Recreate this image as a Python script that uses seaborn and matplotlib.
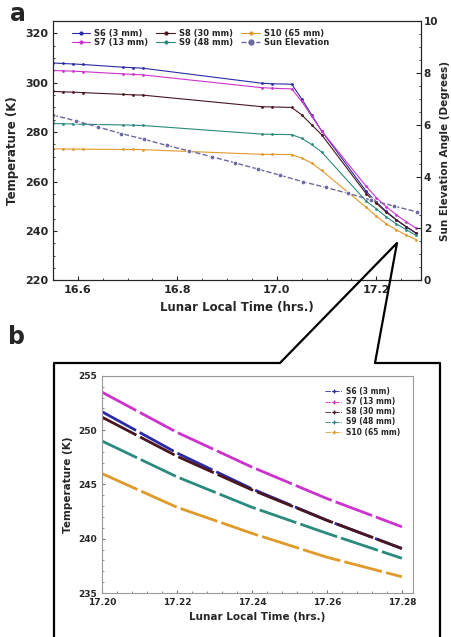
import numpy as np
import pandas as pd
import matplotlib
matplotlib.use('Agg')
import matplotlib.pyplot as plt
import seaborn as sns
from matplotlib.lines import Line2D
from matplotlib.ticker import MultipleLocator

sns.set_style('ticks')
plt.rcParams['font.family'] = ['DejaVu Sans']
plt.rcParams['font.weight'] = 'bold'

# Zeitpunkte (Lunar Local Time, hrs.)
zeit = [16.55, 16.57, 16.59, 16.61, 16.69, 16.71, 16.73, 16.97, 16.99, 17.03,
        17.05, 17.07, 17.09, 17.18, 17.20, 17.22, 17.24, 17.26, 17.28]

# Temperaturen (K)
s6 = [308.0, 307.8, 307.6, 307.4, 306.3, 306.1, 305.9, 299.8, 299.6, 299.4,
      293.5, 287.0, 280.5, 256.0, 251.7, 247.9, 244.6, 241.7, 239.1]
s7 = [305.0, 304.8, 304.7, 304.5, 303.6, 303.4, 303.2, 298.0, 297.8, 297.5,
      292.5, 286.5, 280.5, 258.0, 253.5, 249.8, 246.6, 243.7, 241.1]
s8 = [296.5, 296.3, 296.2, 296.0, 295.3, 295.1, 295.0, 290.3, 290.2, 290.0,
      287.0, 283.0, 279.0, 255.0, 251.2, 247.6, 244.5, 241.7, 239.1]
s9 = [283.5, 283.4, 283.3, 283.2, 282.9, 282.8, 282.7, 279.2, 279.1, 279.0,
      277.5, 275.0, 272.0, 252.0, 249.0, 245.7, 242.9, 240.5, 238.2]
s10 = [273.2, 273.2, 273.1, 273.1, 273.0, 273.0, 272.9, 271.0, 271.0, 270.9,
       269.5, 267.5, 264.5, 249.5, 246.0, 242.9, 240.5, 238.3, 236.5]

sensoren = ['S6 (3 mm)', 'S7 (13 mm)', 'S8 (30 mm)', 'S9 (48 mm)', 'S10 (65 mm)']
farben = ['#2b2ba8', '#cc33cc', '#4a1620', '#2a8a7e', '#e09a2a']

# Sonnenhöhe (Grad)
zeit_sonne = [16.55, 16.596, 16.641, 16.687, 16.733, 16.779, 16.824, 16.870, 16.916,
              16.962, 17.007, 17.053, 17.099, 17.144, 17.190, 17.236, 17.282]
sonne = [6.37, 6.15, 5.91, 5.66, 5.44, 5.20, 4.99, 4.76, 4.53,
         4.29, 4.05, 3.80, 3.58, 3.35, 3.09, 2.86, 2.64]

rows = []
for name, werte in zip(sensoren, [s6, s7, s8, s9, s10]):
    for t, v in zip(zeit, werte):
        rows.append({'Zeit': t, 'Temp': v, 'Sensor': name})
df = pd.DataFrame(rows)
df_sonne = pd.DataFrame({'Zeit': zeit_sonne, 'Winkel': sonne})

fig = plt.figure(figsize=(4.51, 6.37), dpi=100)

# ---------- Panel a ----------
ax = fig.add_axes([0.1175, 0.560, 0.816, 0.407])
for name, c in zip(sensoren, farben):
    sns.lineplot(data=df[df['Sensor'] == name], x='Zeit', y='Temp', color=c,
                 marker='.', markersize=4, markeredgewidth=0, linewidth=0.8,
                 ax=ax, label=name, legend=False)
ax.set_xlim(16.55, 17.29)
ax.set_ylim(220, 325)
ax.set_yticks([220, 240, 260, 280, 300, 320])
ax.set_xticks([16.6, 16.8, 17.0, 17.2])
ax.xaxis.set_minor_locator(MultipleLocator(0.05))
ax.yaxis.set_minor_locator(MultipleLocator(5))
ax.tick_params(which='both', direction='in', labelsize=8)
ax.tick_params(which='major', length=3)
ax.tick_params(which='minor', length=1.5)
ax.set_xlabel('Lunar Local Time (hrs.)', fontsize=8.5, fontweight='bold')
ax.set_ylabel('Temperature (K)', fontsize=8.5, fontweight='bold')
for lab in ax.get_xticklabels() + ax.get_yticklabels():
    lab.set_fontweight('bold')

ax2 = ax.twinx()
sns.lineplot(data=df_sonne, x='Zeit', y='Winkel', color='#6a6aa0', marker='o',
             markersize=3.5, linestyle='--', linewidth=1.0, ax=ax2, legend=False)
ax2.set_ylim(0, 10)
ax2.set_yticks([0, 2, 4, 6, 8, 10])
ax2.yaxis.set_minor_locator(MultipleLocator(0.5))
ax2.tick_params(which='both', direction='in', labelsize=7.5, pad=2)
ax2.tick_params(which='minor', length=1.5)
ax2.set_ylabel('Sun Elevation Angle (Degrees)', fontsize=7.5, fontweight='bold',
               labelpad=1)
for lab in ax2.get_yticklabels():
    lab.set_fontweight('bold')

handles = [Line2D([], [], color=c, marker='.', markersize=4, linewidth=0.8) for c in farben]
handles.append(Line2D([], [], color='#6a6aa0', marker='o', markersize=3.5,
                      linestyle='--', linewidth=1.0))
labels = sensoren + ['Sun Elevation']
ax2.legend(handles, labels, ncol=3,
           loc='upper left', bbox_to_anchor=(0.03, 1.0), frameon=False,
           prop={'size': 6, 'weight': 'bold'}, handlelength=2.2,
           columnspacing=1.0, labelspacing=0.1, handletextpad=0.5)

# ---------- Panel b ----------
bx = fig.add_axes([0.226, 0.069, 0.690, 0.341])
df_b = df[df['Zeit'] >= 17.2]
for name, c in zip(sensoren, farben):
    sns.lineplot(data=df_b[df_b['Sensor'] == name], x='Zeit', y='Temp', color=c,
                 linewidth=2.0, linestyle=(0, (14, 1.5)), ax=bx, legend=False)
bx.set_xlim(17.20, 17.283)
bx.set_ylim(235, 255)
bx.set_xticks([17.20, 17.22, 17.24, 17.26, 17.28])
bx.set_xticklabels(['17.20', '17.22', '17.24', '17.26', '17.28'])
bx.set_yticks([235, 240, 245, 250, 255])
bx.xaxis.set_minor_locator(MultipleLocator(0.004))
bx.yaxis.set_minor_locator(MultipleLocator(1))
bx.tick_params(which='both', direction='in', labelsize=6.5, color='#777777')
bx.tick_params(which='major', length=2.5)
bx.tick_params(which='minor', length=1.2)
for s in bx.spines.values():
    s.set_color('#999999')
bx.set_xlabel('Lunar Local Time (hrs.)', fontsize=7.5, fontweight='bold')
bx.set_ylabel('Temperature (K)', fontsize=7.5, fontweight='bold')
for lab in bx.get_xticklabels() + bx.get_yticklabels():
    lab.set_fontweight('bold')
hb = [Line2D([], [], color=c, marker='+', markersize=3, linestyle='-.', linewidth=0.6)
      for c in farben]
bx.legend(hb, sensoren, loc='upper right', bbox_to_anchor=(0.98, 0.98),
          frameon=False, prop={'size': 5.5, 'weight': 'bold'}, handlelength=2.2,
          labelspacing=0.15, handletextpad=0.5)

# ---------- Rahmen und Verbindungslinien ----------
W, H = 451.0, 637.0
def fx(x): return x / W
def fy(y): return 1 - y / H
rahmen_x = [54, 54, 280, 397, 375, 440, 440]
rahmen_y = [640, 363, 363, 243, 363, 363, 640]
fig.add_artist(Line2D([fx(x) for x in rahmen_x], [fy(y) for y in rahmen_y],
                      color='black', linewidth=1.6, transform=fig.transFigure))

fig.text(fx(10), fy(14), 'a', fontsize=17, fontweight='bold', va='center')
fig.text(fx(8), fy(337), 'b', fontsize=17, fontweight='bold', va='center')

fig.savefig('out.png', dpi=100)
